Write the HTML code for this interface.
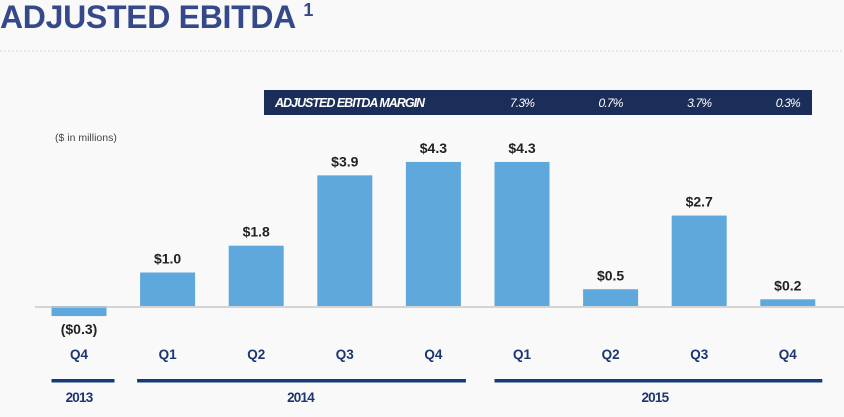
<!DOCTYPE html>
<html><head><meta charset="utf-8"><style>
body{margin:0;background:#f9f9f9;font-family:"Liberation Sans",sans-serif;}
#wrap{position:relative;width:844px;height:417px;overflow:hidden;}
</style></head><body>
<div id="wrap">
<svg id="chart" width="844" height="417">
<text x="0" y="28" font-size="32" font-weight="bold" fill="#34488a" letter-spacing="-0.3">ADJUSTED EBITDA <tspan font-size="18" dy="-12">1</tspan></text>
<line x1="0" y1="51" x2="844" y2="51" stroke="#cfcfcf" stroke-dasharray="1.5,2.5"/>
<rect x="264" y="90" width="548" height="25" fill="#1b2e5a"/>
<text x="275" y="107" font-size="12.5" font-weight="bold" font-style="italic" fill="#fff" letter-spacing="-1">ADJUSTED EBITDA MARGIN</text>
<text x="55" y="141" font-size="10.5" fill="#444">($ in millions)</text>
<g id="marks"></g>
</svg>
</div>
<script>
const quarters=["Q4","Q1","Q2","Q3","Q4","Q1","Q2","Q3","Q4"];
const values=[-0.3,1.0,1.8,3.9,4.3,4.3,0.5,2.7,0.2];
const valueLabels=["($0.3)","$1.0","$1.8","$3.9","$4.3","$4.3","$0.5","$2.7","$0.2"];
const margins=["7.3%","0.7%","3.7%","0.3%"];
const marginStart=5;
const years=["2013","2014","2015"];
const yearSpans=[[0,0],[1,4],[5,8]];
const NS="http://www.w3.org/2000/svg";
const g=document.getElementById('marks');
const base=306, unit=33.5, x0=79, step=88.6, bw=55;
const xs=i=>x0+i*step;
const ys=v=>base-v*unit;
function mk(tag,attrs,txt){const e=document.createElementNS(NS,tag);for(const k in attrs)e.setAttribute(k,attrs[k]);if(txt!=null)e.textContent=txt;g.appendChild(e);return e;}
values.forEach((v,i)=>{
  const top=Math.min(ys(v),base),h=Math.abs(ys(v)-base);
  const r=mk('rect',{x:xs(i)-bw/2,y:top,width:bw,height:h,fill:'#5ea8dc'});
  
  
  const ty=v<0?ys(v)+18:ys(v)-9;
  const t=mk('text',{x:xs(i),y:ty,'font-size':14,'font-weight':'bold','text-anchor':'middle',fill:'#222'},valueLabels[i]);
  
  
  const q=mk('text',{x:xs(i),y:359,'font-size':13.5,'font-weight':'bold','text-anchor':'middle',fill:'#1b3570'},quarters[i]);
  
  
});
const ax=mk('line',{x1:35,y1:base+1,x2:844,y2:base+1,stroke:'#c8c8c8','stroke-width':1.5});


margins.forEach((m,k)=>{
  const t=mk('text',{x:xs(marginStart+k),y:107,'font-size':12,'font-style':'italic',fill:'#fff','text-anchor':'middle','letter-spacing':'-0.8'},m);
  
  
});
years.forEach((y,k)=>{
  const pad=[8,5,7][k];
  const a=xs(yearSpans[k][0])-bw/2-(k==1?3:0), b=xs(yearSpans[k][1])+bw/2+pad;
  const l=mk('rect',{x:a,y:379,width:b-a,height:3.5,fill:'#153a78'});
  
  
  const cx=(xs(yearSpans[k][0])+xs(yearSpans[k][1]))/2;
  const t=mk('text',{x:cx,y:402,'font-size':13.5,'font-weight':'bold','text-anchor':'middle',fill:'#1b3570','letter-spacing':'-0.8'},y);
  
  
});
</script>
</body></html>
